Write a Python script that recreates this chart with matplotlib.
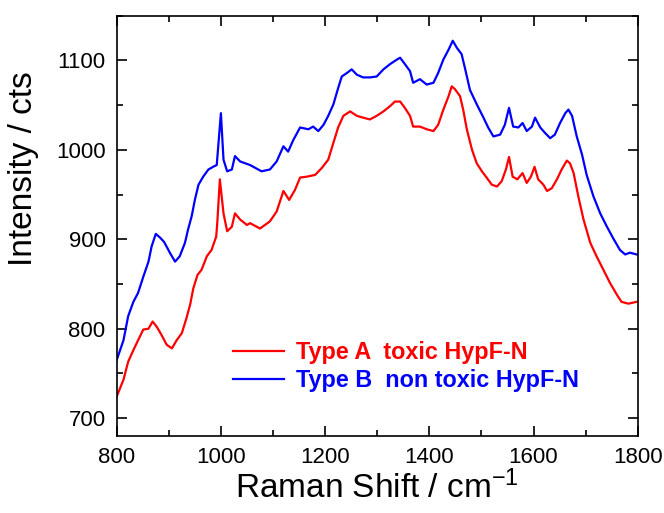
import matplotlib
matplotlib.use("Agg")
import matplotlib.pyplot as plt
from matplotlib.ticker import MultipleLocator

plt.rcParams['font.family'] = ['Liberation Sans', 'DejaVu Sans']
plt.rcParams['mathtext.default'] = 'regular'

# Type A (toxic) - red
xa = [800, 813, 822, 832, 841, 851, 861, 869, 877, 886, 896, 906, 915, 925, 934, 941, 947, 955, 963,
      973, 982, 991, 993, 998, 1005, 1012, 1021, 1027, 1037, 1050, 1056, 1075, 1094, 1107, 1120, 1131,
      1142, 1152, 1165, 1181, 1194, 1206, 1216, 1225, 1235, 1248, 1261, 1273, 1286, 1299, 1312, 1325,
      1334, 1344, 1353, 1363, 1369, 1382, 1395, 1408, 1417, 1427, 1437, 1443, 1449, 1459, 1465, 1472,
      1482, 1491, 1501, 1510, 1520, 1530, 1539, 1547, 1553, 1560, 1569, 1579, 1587, 1595, 1602, 1609,
      1619, 1626, 1635, 1645, 1654, 1664, 1670, 1677, 1686, 1696, 1709, 1721, 1734, 1747, 1760, 1769,
      1782, 1798]
ya = [724, 743, 763, 776, 787, 799, 800, 808, 802, 793, 782, 778, 787, 795, 812, 827, 845, 860, 866,
      881, 888, 903, 918, 967, 929, 909, 914, 929, 922, 916, 918, 912, 920, 931, 954, 944,
      955, 969, 970, 972, 980, 989, 1008, 1025, 1038, 1043, 1038, 1036, 1034, 1038, 1043, 1049,
      1054, 1054, 1047, 1038, 1026, 1026, 1023, 1021, 1028, 1045, 1060, 1071, 1068, 1060, 1045, 1023,
      1000, 985, 976, 969, 961, 959, 965, 978, 992, 970, 967, 974, 963, 970, 981, 967,
      961, 954, 957, 967, 978, 988, 985, 974, 948, 922, 896, 881, 866, 851, 838, 830,
      828, 830]

# Type B (non toxic) - blue
xb = [800, 813, 822, 832, 841, 851, 861, 867, 875, 883, 891, 902, 912, 921, 931, 937, 944, 950, 957,
      966, 976, 985, 992, 1000, 1005, 1012, 1021, 1027, 1037, 1056, 1078, 1094, 1107, 1120, 1129, 1139,
      1152, 1168, 1177, 1187, 1197, 1206, 1216, 1225, 1232, 1242, 1251, 1261, 1273, 1286, 1299, 1312,
      1325, 1338, 1344, 1353, 1363, 1369, 1382, 1395, 1408, 1417, 1427, 1437, 1445, 1453, 1462, 1469,
      1478, 1491, 1504, 1513, 1523, 1536, 1545, 1553, 1561, 1571, 1579, 1587, 1597, 1603, 1613, 1622,
      1632, 1641, 1651, 1661, 1667, 1674, 1683, 1693, 1702, 1715, 1728, 1741, 1753, 1766, 1776, 1785,
      1798]
yb = [765, 787, 814, 830, 840, 858, 875, 892, 906, 902, 897, 885, 875, 881, 896, 911, 926, 944, 961,
      970, 978, 981, 983, 1041, 989, 976, 978, 993, 987, 983, 976, 978, 987, 1004, 998, 1011,
      1025, 1023, 1026, 1021, 1028, 1038, 1051, 1069, 1082, 1086, 1090, 1084, 1081, 1081, 1082, 1090,
      1096, 1101, 1103, 1096, 1088, 1075, 1079, 1073, 1075, 1086, 1101, 1112, 1122, 1114, 1107, 1090,
      1067, 1051, 1036, 1025, 1015, 1017, 1028, 1047, 1026, 1025, 1030, 1021, 1026, 1036, 1025, 1019,
      1013, 1017, 1030, 1041, 1045, 1038, 1015, 995, 972, 948, 929, 914, 901, 888, 883, 885,
      883]

labels = ["Type A  toxic HypF-N", "Type B  non toxic HypF-N"]
colors = ["#ff0000", "#0000ff"]

fig = plt.figure(figsize=(6.64, 5.13), dpi=100)
ax = fig.add_axes([116.7/664, 1-436/513, (637.7-116.7)/664, (436-15.7)/513])

ax.plot(xa, ya, color=colors[0], lw=1.6, label=labels[0])
ax.plot(xb, yb, color=colors[1], lw=1.6, label=labels[1])

ax.set_xlim(800, 1800)
ax.set_ylim(680, 1150)
ax.xaxis.set_major_locator(MultipleLocator(200))
ax.xaxis.set_minor_locator(MultipleLocator(100))
ax.yaxis.set_major_locator(MultipleLocator(100))
ax.yaxis.set_minor_locator(MultipleLocator(50))
ax.tick_params(which='both', direction='in', top=True, right=True, width=1.2, labelsize=16)
ax.tick_params(which='major', length=7)
ax.tick_params(which='minor', length=4)
ax.tick_params(axis='x', pad=8)
ax.tick_params(axis='y', pad=8)
for s in ax.spines.values():
    s.set_linewidth(1.2)

ax.set_xlabel("Raman Shift / cm$^{-1}$", fontsize=24, labelpad=2)
ax.set_ylabel("Intensity / cts", fontsize=24)
ax.yaxis.set_label_coords(-0.149, 0.635)

leg = ax.legend(loc='center left', bbox_to_anchor=(0.2, 0.165), frameon=False,
                handlelength=2.2, handletextpad=0.5, labelspacing=0.22, borderpad=0,
                prop={'weight': 'bold', 'size': 16.8}, labelcolor='linecolor')

fig.savefig("out.png", dpi=100)
